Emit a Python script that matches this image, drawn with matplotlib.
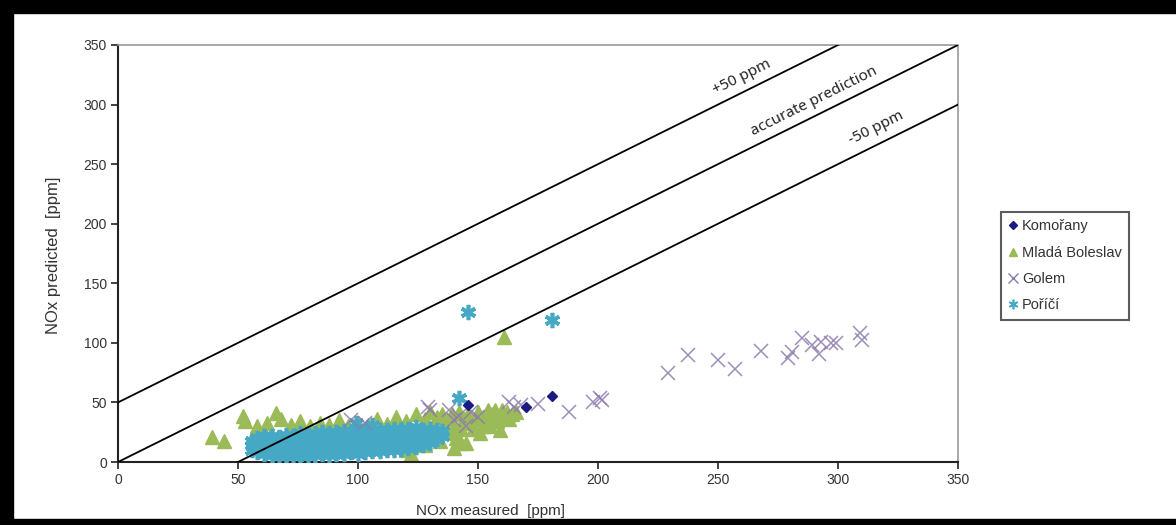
import matplotlib
matplotlib.use("Agg")
import matplotlib.pyplot as plt
from matplotlib.patches import Rectangle
from matplotlib.lines import Line2D

plt.rcParams['font.family'] = ['Liberation Sans', 'DejaVu Sans']

# ---------------- data ----------------
series_names = ["Komořany", "Mladá Boleslav", "Golem", "Poříčí"]

komorany = [(181, 55), (170, 46), (146, 48)]

mlada_boleslav = [
    (39, 21), (44, 18), (52, 39), (53, 34), (57, 25), (58, 30), (62, 33), (66, 41),
    (68, 36), (72, 31), (76, 34), (80, 30), (84, 33), (88, 31), (92, 35), (96, 30),
    (100, 33), (104, 31), (108, 36), (112, 32), (116, 38), (120, 34), (124, 40),
    (128, 36), (130, 42), (133, 38), (136, 30), (138, 25), (140, 30), (141, 20),
    (143, 16), (144, 36), (146, 40), (148, 28), (150, 42), (152, 38), (154, 44),
    (156, 40), (158, 34), (159, 27), (160, 44), (162, 42), (164, 40), (122, 7),
    (120, 10), (126, 20), (128, 14), (134, 18), (137, 35), (142, 42), (147, 33),
    (151, 24), (155, 30), (145, 16), (152, 30), (161, 105),
    (139, 40), (143, 28), (149, 36), (153, 34), (157, 44), (163, 36), (166, 42),
    (136, 24), (140, 12), (132, 30), (135, 40), (156, 36), (160, 38),
]

golem = [
    (97, 35), (103, 33), (129, 46), (130, 44), (138, 44), (142, 39), (147, 42),
    (150, 38), (145, 30), (140, 35), (163, 50), (165, 46), (168, 48), (175, 49),
    (188, 42), (198, 50), (201, 54), (201.5, 52), (229, 75), (237.5, 90), (250, 86),
    (257, 78), (268, 93), (279, 87), (281, 92), (285, 104), (289, 98), (292, 91),
    (293, 101), (297, 100), (299, 100), (309, 108), (310, 102),
]

porici = [
    (56, 10), (56, 14), (56, 18),
    (58, 8), (58, 12), (58, 16), (58, 20),
    (61, 7), (61, 11), (61, 15), (61, 19), (61, 22),
    (64, 6), (64, 10), (64, 14), (64, 18), (64, 22),
    (67, 5), (67, 9), (67, 13), (67, 17), (67, 21),
    (70, 6), (70, 10), (70, 14), (70, 19), (70, 23),
    (73, 5), (73, 9), (73, 13), (73, 17), (73, 22),
    (76, 6), (76, 10), (76, 15), (76, 19), (76, 24),
    (79, 5), (79, 9), (79, 13), (79, 18), (79, 23),
    (82, 6), (82, 11), (82, 15), (82, 20), (82, 24),
    (85, 7), (85, 10), (85, 14), (85, 19), (85, 25),
    (88, 6), (88, 11), (88, 16), (88, 21), (88, 24),
    (91, 7), (91, 12), (91, 16), (91, 20), (91, 25),
    (94, 7), (94, 11), (94, 15), (94, 20), (94, 26),
    (97, 8), (97, 12), (97, 17), (97, 22), (97, 26),
    (100, 7), (100, 12), (100, 16), (100, 21), (100, 26),
    (103, 8), (103, 13), (103, 18), (103, 22), (103, 27),
    (106, 9), (106, 13), (106, 17), (106, 22), (106, 26),
    (109, 9), (109, 14), (109, 19), (109, 23), (109, 27),
    (112, 10), (112, 14), (112, 18), (112, 23), (112, 27),
    (115, 10), (115, 15), (115, 20), (115, 24), (115, 28),
    (118, 11), (118, 16), (118, 20), (118, 25), (118, 28),
    (121, 12), (121, 16), (121, 21), (121, 25), (121, 28),
    (124, 13), (124, 17), (124, 22), (124, 26), (124, 29),
    (127, 14), (127, 18), (127, 22), (127, 27),
    (130, 16), (130, 20), (130, 24), (130, 28),
    (133, 19), (133, 23), (133, 27),
    (135, 22), (135, 26),
    (99, 33), (106, 31), (142, 54), (146, 126), (181, 119),
]

ref_offsets = [50, 0, -50]
ref_labels = ["+50 ppm", "accurate prediction", "-50 ppm"]
ref_label_pos = [(260, 323), (290, 303), (316, 280)]

xticks = [0, 50, 100, 150, 200, 250, 300, 350]
yticks = [0, 50, 100, 150, 200, 250, 300, 350]

# ---------------- styles ----------------
c_kom = "#1a1a80"
c_mb = "#9BBB59"
c_gol = "#8C7BAE"
c_por = "#45A8C4"

fig = plt.figure(figsize=(11.76, 5.25), dpi=100)
ax = fig.add_axes([118 / 1176, 63 / 525, 840 / 1176, 417 / 525])

def xs(p): return [a for a, b in p]
def ys(p): return [b for a, b in p]

ax.plot(xs(mlada_boleslav), ys(mlada_boleslav), linestyle='none', marker='^',
        markersize=10.5, color=c_mb, markeredgecolor=c_mb, zorder=2)
ax.plot(xs(porici), ys(porici), linestyle='none', marker=(6, 2, 0),
        markersize=11, markeredgewidth=2.6, color=c_por, markeredgecolor=c_por, zorder=3)
ax.plot(xs(golem), ys(golem), linestyle='none', marker='x',
        markersize=10, markeredgewidth=1.1, color=c_gol, alpha=0.85, zorder=4)
ax.plot(xs(komorany), ys(komorany), linestyle='none', marker='D',
        markersize=5, color=c_kom, zorder=5)

for off in ref_offsets:
    ax.plot([0, 350], [0 + off, 350 + off], color='black', lw=1.3, zorder=6)

ang = 26.4
for lab, (lx, ly) in zip(ref_labels, ref_label_pos):
    ax.text(lx, ly, lab, rotation=ang, ha='center', va='center',
            fontsize=11, color='#222222', family=['Noto Sans', 'DejaVu Sans'],
            rotation_mode='anchor', zorder=7)

ax.set_xlim(0, 350)
ax.set_ylim(0, 350)
ax.set_xticks(xticks)
ax.set_yticks(yticks)
ax.tick_params(axis='both', labelsize=10, length=5, width=1.2, direction='out',
               colors='#222222', labelcolor='#333333', pad=3)

for s in ['left', 'bottom']:
    ax.spines[s].set_color('#222222')
    ax.spines[s].set_linewidth(1.5)
for s in ['top', 'right']:
    ax.spines[s].set_color('#9a9a9a')
    ax.spines[s].set_linewidth(1.2)

ax.set_xlabel("NOx measured  [ppm]", fontsize=11, color='#333333')
ax.xaxis.set_label_coords((490 - 118) / 840, -0.1)
ax.set_ylabel("NOx predicted  [ppm]", fontsize=12, color='#333333')
ax.yaxis.set_label_coords(-0.068, 0.495)

handles = [
    Line2D([], [], linestyle='none', marker='D', markersize=4, color=c_kom),
    Line2D([], [], linestyle='none', marker='^', markersize=6, color=c_mb),
    Line2D([], [], linestyle='none', marker='x', markersize=7, color=c_gol, markeredgewidth=1),
    Line2D([], [], linestyle='none', marker=(6, 2, 0), markersize=7, color=c_por, markeredgewidth=1.2),
]
leg = fig.legend(handles, series_names, loc='upper left',
                 bbox_to_anchor=(1001 / 1176, 1 - 212 / 525),
                 fontsize=10.5, frameon=True, fancybox=False,
                 handlelength=0.6, handletextpad=0.35, borderpad=0.5,
                 labelspacing=0.85, borderaxespad=0)
leg.get_frame().set_edgecolor('#333333')
leg.get_frame().set_linewidth(1.5)
for t in leg.get_texts():
    t.set_color('#333333')

# black screenshot frame
fig.patches.append(Rectangle((0, 1 - 13 / 525), 1, 13 / 525, transform=fig.transFigure,
                             color='black', zorder=10))
fig.patches.append(Rectangle((0, 0), 13 / 1176, 1, transform=fig.transFigure,
                             color='black', zorder=10))
fig.patches.append(Rectangle((0, 0), 1, 6 / 525, transform=fig.transFigure,
                             color='black', zorder=10))

fig.savefig("out.png", dpi=100)
